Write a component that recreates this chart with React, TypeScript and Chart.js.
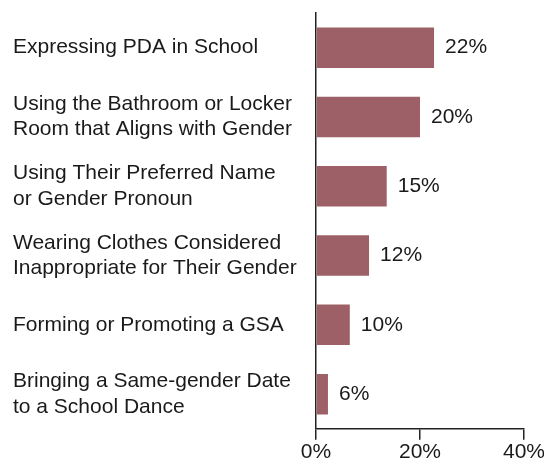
import React, { useEffect, useRef } from "react";
import { Chart, registerables } from "chart.js";

Chart.register(...registerables);

const categories: (string | string[])[] = [
  "Expressing PDA in School",
  ["Using the Bathroom or Locker", "Room that Aligns with Gender"],
  ["Using Their Preferred Name", "or Gender Pronoun"],
  ["Wearing Clothes Considered", "Inappropriate for Their Gender"],
  "Forming or Promoting a GSA",
  ["Bringing a Same-gender Date", "to a School Dance"],
];

// bar lengths as drawn in the picture (in axis percent units)
const barValues = [22.7, 20.0, 13.6, 10.2, 6.5, 2.3];
// value labels printed next to the bars
const valueLabels = ["22%", "20%", "15%", "12%", "10%", "6%"];

const xTicks = [0, 20, 40];

const FONT = "'Liberation Sans', Arial, sans-serif";
const BAR_COLOR = "#9d6067";
const TEXT_COLOR = "#1a1a1a";

const valueLabelPlugin = {
  id: "valueLabels",
  afterDatasetsDraw(chart: any) {
    const ctx = chart.ctx;
    const meta = chart.getDatasetMeta(0);
    ctx.save();
    ctx.font = `21px ${FONT}`;
    ctx.fillStyle = TEXT_COLOR;
    ctx.textAlign = "left";
    ctx.textBaseline = "middle";
    meta.data.forEach((bar: any, i: number) => {
      ctx.fillText(valueLabels[i], bar.x + 11, bar.y);
    });
    ctx.restore();
  },
};

export default function App() {
  const canvasRef = useRef<HTMLCanvasElement | null>(null);

  useEffect(() => {
    if (!canvasRef.current) return;
    const chart = new Chart(canvasRef.current, {
      type: "bar",
      data: {
        labels: categories,
        datasets: [
          {
            data: barValues,
            backgroundColor: BAR_COLOR,
            borderWidth: 0,
            barPercentage: 0.584,
            categoryPercentage: 1,
          },
        ],
      },
      options: {
        indexAxis: "y",
        animation: false,
        responsive: true,
        maintainAspectRatio: false,
        layout: { padding: { left: 5, top: 5, right: 28, bottom: 0 } },
        plugins: {
          legend: { display: false },
          tooltip: { enabled: false },
          title: { display: false },
        },
        scales: {
          x: {
            min: 0,
            max: 40,
            afterBuildTicks: (axis: any) => {
              axis.ticks = xTicks.map((v) => ({ value: v }));
            },
            ticks: {
              callback: (v: any) => `${v}%`,
              font: { family: FONT, size: 21 },
              color: TEXT_COLOR,
              padding: 0,
              maxRotation: 0,
            },
            grid: {
              drawOnChartArea: false,
              drawTicks: true,
              tickLength: 11,
              color: "#222",
              lineWidth: 1.5,
            },
            border: { display: true, color: "#222", width: 1.5 },
          },
          y: {
            afterFit: (axis: any) => {
              axis.width = 303;
              axis.paddingTop = 0;
              axis.paddingBottom = 0;
            },
            ticks: {
              crossAlign: "far",
              font: { family: FONT, size: 21, lineHeight: 1.2 },
              color: TEXT_COLOR,
            },
            grid: { display: false },
            border: { display: true, color: "#222", width: 1.5 },
          },
        },
      },
      plugins: [valueLabelPlugin],
    });
    return () => chart.destroy();
  }, []);

  return (
    <div style={{ width: 544, height: 457, position: "relative" }}>
      <canvas ref={canvasRef} />
    </div>
  );
}
